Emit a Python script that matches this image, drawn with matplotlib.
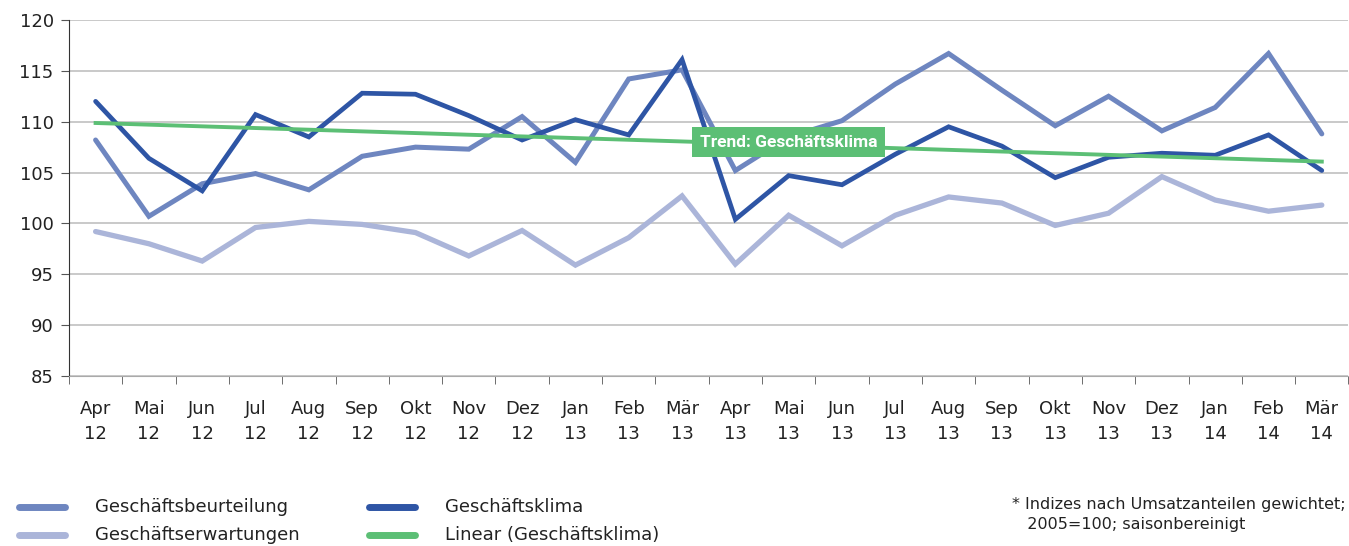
import numpy as np
import matplotlib.pyplot as plt

# months (two-line tick labels)
months = ["Apr", "Mai", "Jun", "Jul", "Aug", "Sep", "Okt", "Nov", "Dez", "Jan", "Feb", "Mär",
          "Apr", "Mai", "Jun", "Jul", "Aug", "Sep", "Okt", "Nov", "Dez", "Jan", "Feb", "Mär"]
years = ["12"] * 9 + ["13"] * 12 + ["14"] * 3

beurteilung = [108.2, 100.7, 103.9, 104.9, 103.3, 106.6, 107.5, 107.3, 110.5, 106.0, 114.2, 115.1,
               105.2, 108.5, 110.1, 113.7, 116.7, 113.1, 109.6, 112.5, 109.1, 111.4, 116.7, 108.8]
erwartungen = [99.2, 98.0, 96.3, 99.6, 100.2, 99.9, 99.1, 96.8, 99.3, 95.9, 98.6, 102.7,
               96.0, 100.8, 97.8, 100.8, 102.6, 102.0, 99.8, 101.0, 104.6, 102.3, 101.2, 101.8]
klima = [112.0, 106.4, 103.2, 110.7, 108.5, 112.8, 112.7, 110.6, 108.2, 110.2, 108.7, 116.1,
         100.4, 104.7, 103.8, 106.8, 109.5, 107.6, 104.5, 106.5, 106.9, 106.7, 108.7, 105.2]

c_beur = "#6e86c0"
c_erw = "#abb5d9"
c_klima = "#2e55a5"
c_trend = "#5cbf75"

x = np.arange(len(months))
slope, icpt = np.polyfit(x, klima, 1)
trend = slope * x + icpt

fig = plt.figure(figsize=(13.49, 5.46), dpi=100)
ax = fig.add_axes([0.0511, 0.3114, 0.9485, 0.6520])

ax.plot(x, erwartungen, color=c_erw, lw=3.8, solid_capstyle="round", solid_joinstyle="miter", zorder=3)
ax.plot(x, beurteilung, color=c_beur, lw=3.6, solid_capstyle="round", solid_joinstyle="miter", zorder=4)
ax.plot(x, klima, color=c_klima, lw=3.4, solid_capstyle="round", solid_joinstyle="miter", zorder=5)
ax.plot(x, trend, color=c_trend, lw=2.8, zorder=6)

ax.text(13, 108.0, "Trend: Geschäftsklima", color="white", fontsize=12.5, fontweight="bold",
        family=["Roboto", "DejaVu Sans"],
        ha="center", va="center", zorder=8,
        bbox=dict(boxstyle="square,pad=0.45", fc=c_trend, ec="none"))

ax.set_xlim(-0.5, len(months) - 0.5)
ax.set_ylim(85, 120)
ax.set_yticks(np.arange(85, 121, 5))
ax.grid(axis="y", color="#c0c0c0", lw=1.2, zorder=0)
ax.set_axisbelow(True)

ax.set_xticks(x)
ax.set_xticklabels([f"{m}\n{y}" for m, y in zip(months, years)], linespacing=1.5)
ax.set_xticks(np.arange(-0.5, len(months), 1), minor=True)
ax.tick_params(axis="x", which="major", length=0, pad=17, labelsize=13, colors="#222222")
ax.tick_params(axis="x", which="minor", length=6, color="#555555")
ax.tick_params(axis="y", length=6, color="#555555", labelsize=13, pad=5, labelcolor="#222222")

for s in ["top", "right"]:
    ax.spines[s].set_visible(False)
ax.spines["left"].set_color("#333333")
ax.spines["bottom"].set_color("#aaaaaa")

# legend drawn by hand in figure coords
leg = [("Geschäftsbeurteilung", c_beur, 0.0141, 0.0704, 0.071),
       ("Geschäftserwartungen", c_erw, 0.0141, 0.0704, 0.020),
       ("Geschäftsklima", c_klima, 0.2735, 0.3299, 0.071),
       ("Linear (Geschäftsklima)", c_trend, 0.2735, 0.3299, 0.020)]
for name, col, x0, x1, yy in leg:
    fig.add_artist(plt.Line2D([x0, x1 - 0.022], [yy, yy], color=col, lw=5, solid_capstyle="round"))
    fig.text(x1, yy, name, fontsize=13, va="center", color="#222222")

fig.text(0.7505, 0.057, "* Indizes nach Umsatzanteilen gewichtet;\n   2005=100; saisonbereinigt",
         fontsize=11.5, va="center", color="#222222", linespacing=1.4)

fig.savefig("out.png", dpi=100)
